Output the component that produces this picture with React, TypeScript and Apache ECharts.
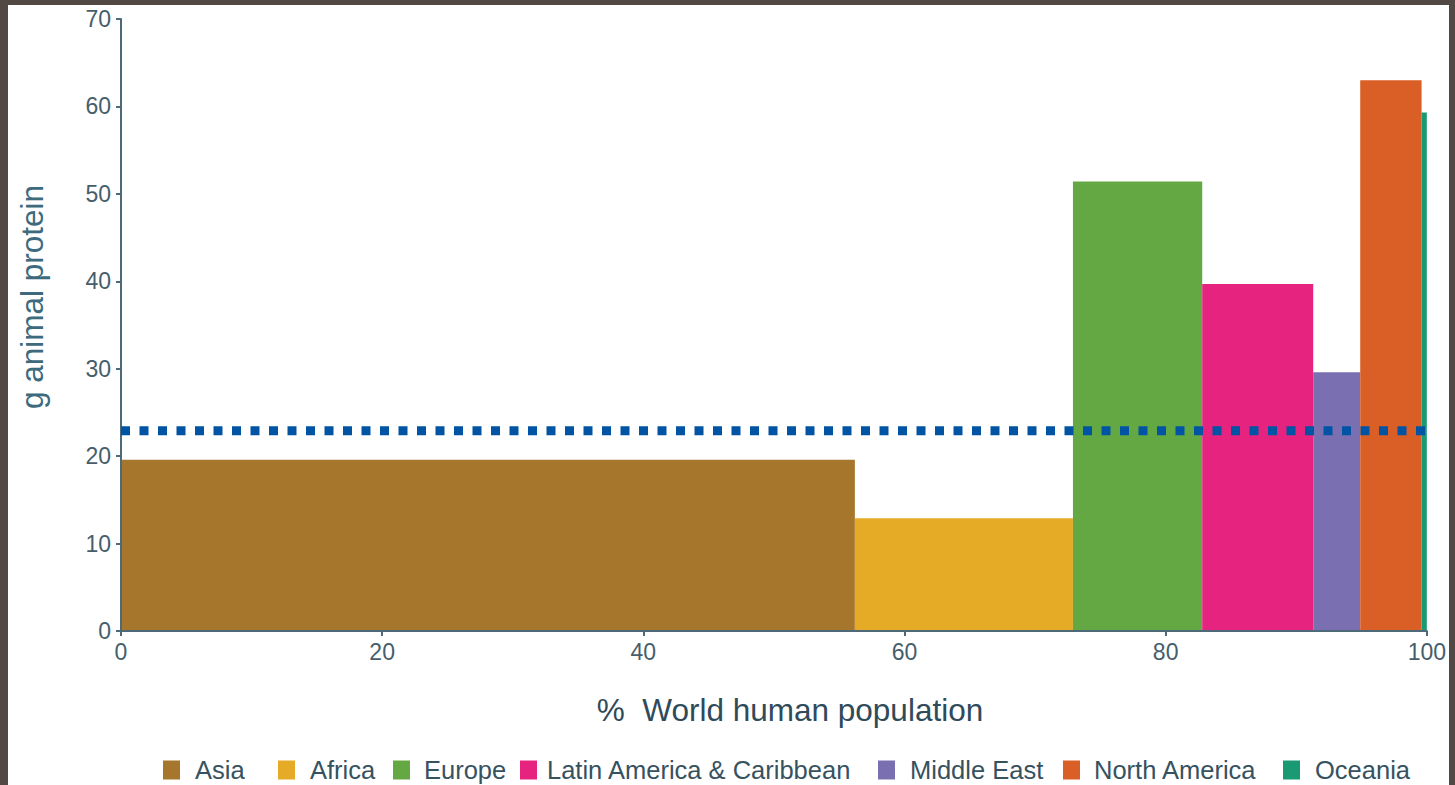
import React, { useEffect, useRef } from "react";
import * as echarts from "echarts";

const regions = [
  "Asia",
  "Africa",
  "Europe",
  "Latin America & Caribbean",
  "Middle East",
  "North America",
  "Oceania",
];
// cumulative % of world population: start / end of each region
const popStart = [0, 56.2, 72.9, 82.8, 91.3, 94.9, 99.6];
const popEnd = [56.2, 72.9, 82.8, 91.3, 94.9, 99.6, 100];
// g animal protein per capita per day
const protein = [19.6, 12.9, 51.4, 39.7, 29.6, 63.0, 59.3];
const colors = ["#a5762c", "#e6ab26", "#63a843", "#e6237f", "#7a6fb0", "#d95f26", "#1a9a73"];
const worldAverage = 22.9;
const xTicks = [0, 20, 40, 60, 80, 100];

// legend layout (page x of each swatch, gap between swatch and text)
const legendX = [163, 278, 393, 520, 878, 1063, 1283];
const legendTextGap = [15, 15, 14, 10, 15, 14, 15];

const AXIS = "#4e6977";
const FONT = "'Liberation Sans', Arial, sans-serif";

export default function App() {
  const ref = useRef<HTMLDivElement>(null);
  useEffect(() => {
    if (!ref.current) return;
    const chart = echarts.init(ref.current, undefined, { renderer: "svg" });
    const series: any[] = regions.map((name, i) => ({
      name,
      type: "custom",
      z: 2,
      itemStyle: { color: colors[i] },
      encode: { x: [0, 1], y: 2 },
      data: [[popStart[i], popEnd[i], protein[i]]],
      renderItem: (params: any, api: any) => {
        const a = api.coord([api.value(0), 0]);
        const b = api.coord([api.value(1), api.value(2)]);
        return {
          type: "rect",
          shape: { x: a[0], y: b[1], width: b[0] - a[0], height: a[1] - b[1] },
          style: { fill: api.visual("color") },
        };
      },
    }));
    series.push({
      name: "World average",
      type: "line",
      z: 10,
      symbol: "none",
      silent: true,
      lineStyle: { color: "#0054a3", width: 9, type: [9, 9.5], cap: "butt" },
      data: [
        [0, worldAverage],
        [100, worldAverage],
      ],
    });
    const legends = regions.map((name, i) => ({
      data: [name],
      left: legendX[i] - 13,
      top: 747,
      icon: "rect",
      itemWidth: 17,
      itemHeight: 19,
      textStyle: {
        fontSize: 25.5,
        color: "#36525f",
        fontFamily: FONT,
        padding: [0, 0, 0, legendTextGap[i] - 5],
      },
    }));
    chart.setOption({
      animation: false,
      backgroundColor: "#ffffff",
      textStyle: { fontFamily: FONT },
      grid: { left: 113, right: 21, top: 14, bottom: 154 },
      xAxis: {
        type: "value",
        min: 0,
        max: 100,
        interval: 20,
        z: 5,
        splitLine: { show: false },
        axisLine: { show: true, lineStyle: { color: AXIS, width: 2 } },
        axisTick: { show: true, length: 5, lineStyle: { color: AXIS, width: 2 } },
        axisLabel: {
          margin: 9,
          fontSize: 23,
          color: "#465e6b",
          fontFamily: FONT,
          formatter: (v: number) => (xTicks.includes(v) ? String(v) : ""),
        },
      },
      yAxis: {
        type: "value",
        min: 0,
        max: 70,
        interval: 10,
        z: 5,
        splitLine: { show: false },
        axisLine: { show: true, lineStyle: { color: AXIS, width: 2 } },
        axisTick: { show: true, length: 5, lineStyle: { color: AXIS, width: 2 } },
        axisLabel: { margin: 10, fontSize: 23, color: "#465e6b", fontFamily: FONT },
      },
      legend: legends,
      graphic: [
        {
          type: "text",
          x: 24,
          y: 292,
          rotation: Math.PI / 2,
          style: {
            text: "g animal protein",
            align: "center",
            verticalAlign: "middle",
            fontSize: 31.5,
            fontFamily: FONT,
            fill: "#3d6a7d",
          },
        },
        {
          type: "text",
          x: 782,
          y: 705,
          style: {
            text: "%  World human population",
            align: "center",
            verticalAlign: "middle",
            fontSize: 31.5,
            fontFamily: FONT,
            fill: "#2f4a59",
          },
        },
      ],
      series,
    });
    return () => chart.dispose();
  }, []);
  return (
    <div
      style={{
        position: "fixed",
        left: 0,
        top: 0,
        width: 1455,
        height: 785,
        background: "#524944",
        overflow: "hidden",
      }}
    >
      <div
        ref={ref}
        style={{ position: "absolute", left: 8, top: 5, width: 1441, height: 780 }}
      />
    </div>
  );
}
